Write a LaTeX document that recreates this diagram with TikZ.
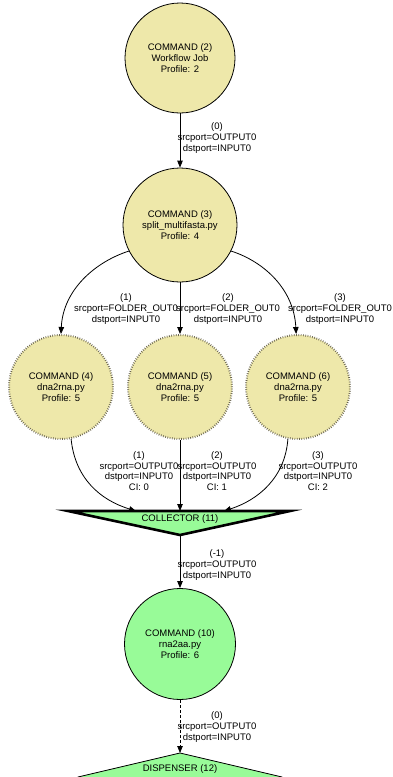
\documentclass[tikz,border=0pt]{standalone}
\usepackage{fontspec}
\setmainfont{Liberation Sans}
\usetikzlibrary{arrows.meta}
\definecolor{cmdyellow}{HTML}{EEE8AA}
\definecolor{cmdgreen}{HTML}{98FB98}
\definecolor{dotcol}{RGB}{105,100,80}
\tikzset{
  lbl/.style={font=\fontsize{9.5}{10.8}\selectfont, align=center, inner sep=0pt},
  cmd/.style={circle, draw=black, line width=0.8pt, fill=cmdyellow, inner sep=0pt, lbl},
  cmddot/.style={circle, draw=dotcol, line width=2pt, dash pattern=on 0.7pt off 1.6pt, fill=cmdyellow, inner sep=0pt, lbl},
  cmdgr/.style={circle, draw=black, line width=0.8pt, fill=cmdgreen, inner sep=0pt, lbl},
  edge/.style={draw=black, line width=0.8pt, -{Triangle[length=7pt,width=5.5pt]}},
}
\begin{document}
\begin{tikzpicture}[x=1pt,y=-1pt]
\useasboundingbox (0,0) rectangle (392,777);
\clip (0,0) rectangle (392,777);
% nodes
\node[cmd, minimum size=110pt] (n2) at (180,58) {COMMAND (2)\\Workflow Job\\Profile: 2};
\node[cmd, minimum size=114pt] (n3) at (180,225) {COMMAND (3)\\split\_multifasta.py\\Profile: 4};
\node[cmddot, minimum size=104pt] (n4) at (61,387) {COMMAND (4)\\dna2rna.py\\Profile: 5};
\node[cmddot, minimum size=104pt] (n5) at (180,387) {COMMAND (5)\\dna2rna.py\\Profile: 5};
\node[cmddot, minimum size=104pt] (n6) at (298,387) {COMMAND (6)\\dna2rna.py\\Profile: 5};
\node[cmdgr, minimum size=111pt] (n10) at (180,644) {COMMAND (10)\\rna2aa.py\\Profile: 6};
% collector
\coordinate (cl) at (68,511);
\coordinate (cr) at (290,511);
\coordinate (cb) at (180,535);
\coordinate (ct) at (180,511);
\coordinate (cin1) at (136,511);
\coordinate (cin3) at (224,511);
\draw[line width=2.6pt, fill=cmdgreen, line join=miter] (cl) -- (cr) -- (cb) -- cycle;
\node[lbl] (coll) at (180,519) {COLLECTOR (11)};
% dispenser
\coordinate (dt) at (180,753);
\draw[line width=0.8pt, fill=cmdgreen] (dt) -- (282,777) -- (282,790) -- (78,790) -- (78,777) -- cycle;
\node[lbl] (disp) at (180,769) {DISPENSER (12)};
% edges
\draw[edge] (n2.south) -- (n3.north);
\draw[edge] (n3.207) .. controls (95,262) and (63,290) .. (n4.north);
\draw[edge] (n3.south) -- (n5.north);
\draw[edge] (n3.333) .. controls (265,262) and (294,290) .. (n6.92);
\draw[edge] (n4.281) .. controls (75,478) and (100,500) .. (cin1);
\draw[edge] (n5.south) -- (ct);
\draw[edge] (n6.259) .. controls (285,478) and (258,500) .. (cin3);
\draw[edge] (cb) -- (n10.north);
\draw[edge, dash pattern=on 3pt off 2pt] (n10.south) -- (dt);
% edge labels
\node[lbl] (l23) at (217,138) {(0)\\srcport=OUTPUT0\\dstport=INPUT0};
\node[lbl] (l34) at (126,309) {(1)\\srcport=FOLDER\_OUT0\\dstport=INPUT0};
\node[lbl] (l35) at (228,309) {(2)\\srcport=FOLDER\_OUT0\\dstport=INPUT0};
\node[lbl] (l36) at (340,309) {(3)\\srcport=FOLDER\_OUT0\\dstport=INPUT0};
\node[lbl] (l4c) at (139,471) {(1)\\srcport=OUTPUT0\\dstport=INPUT0\\CI: 0};
\node[lbl] (l5c) at (217,471) {(2)\\srcport=OUTPUT0\\dstport=INPUT0\\CI: 1};
\node[lbl] (l6c) at (318,471) {(3)\\srcport=OUTPUT0\\dstport=INPUT0\\CI: 2};
\node[lbl] (lc10) at (217,565) {(-1)\\srcport=OUTPUT0\\dstport=INPUT0};
\node[lbl] (l10d) at (217,727) {(0)\\srcport=OUTPUT0\\dstport=INPUT0};
\end{tikzpicture}
\end{document}
